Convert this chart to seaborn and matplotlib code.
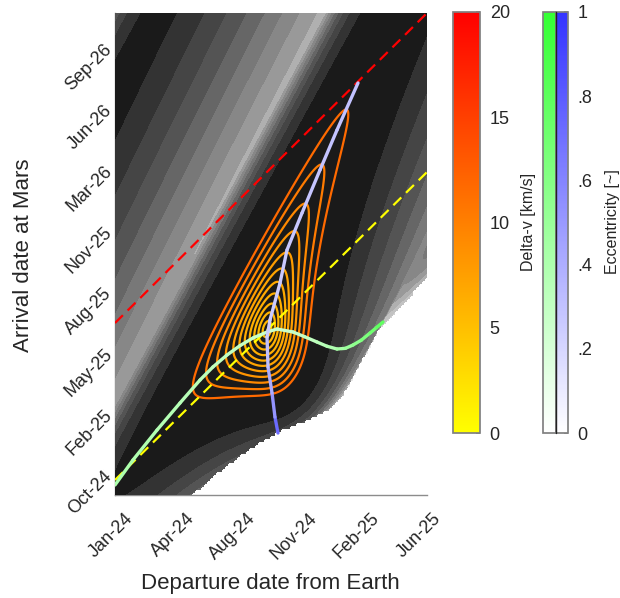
import numpy as np
import matplotlib
matplotlib.use("Agg")
import matplotlib.pyplot as plt
import seaborn as sns
import pandas as pd
from matplotlib.collections import LineCollection
from matplotlib.colors import ListedColormap, BoundaryNorm, Normalize, LinearSegmentedColormap
import matplotlib.colorbar as mcolorbar
import matplotlib.transforms as mtransforms

sns.set_theme(style="white")
plt.rcParams['font.family'] = ['Liberation Sans', 'DejaVu Sans']

# ---------------- axis ticks (days from the first tick) ----------------
departure_tick_days = [0, 100, 200, 300, 400, 500]
departure_tick_labels = ["Jan-24", "Apr-24", "Aug-24", "Nov-24", "Feb-25", "Jun-25"]
arrival_tick_days = [0, 100, 200, 300, 400, 500, 600, 700]
arrival_tick_labels = ["Oct-24", "Feb-25", "May-25", "Aug-25", "Nov-25", "Mar-26", "Jun-26", "Sep-26"]
departure_limits = [0.0, 506.5]
arrival_limits = [-34.4, 755.7]

# ---------------- dashed reference lines ----------------
red_line_x = [0.0, 506.5]
red_line_y = [247.5, 755.7]
yellow_line_x = [0.0, 506.5]
yellow_line_y = [-9.8, 495.0]

# ---------------- eccentricity-coloured curves ----------------
green_x = [0.0, 29.2, 68.2, 105.5, 138.0, 159.0, 181.8, 203.0, 224.0, 246.8, 263.0, 289.0, 308.0,
           327.9, 344.0, 360.4, 374.0, 386.4, 400.0, 414.0, 425.0, 435.1]
green_y = [-18.0, 23.0, 72.1, 116.4, 154.1, 175.5, 195.1, 210.5, 223.0, 232.8, 237.7, 232.8, 225.0,
           216.4, 209.5, 204.9, 206.0, 211.5, 219.5, 231.1, 240.5, 249.2]
green_e = [0.42, 0.40, 0.38, 0.36, 0.34, 0.33, 0.31, 0.30, 0.28, 0.26, 0.25, 0.27, 0.29,
           0.32, 0.36, 0.40, 0.46, 0.52, 0.60, 0.68, 0.74, 0.80]

blue_x = [264.6, 259.7, 254.9, 248.4, 246.8, 251.6, 267.9, 279.2, 303.6, 332.8, 360.4, 394.5]
blue_y = [67.2, 93.4, 132.8, 175.4, 224.6, 252.5, 313.1, 367.2, 427.9, 498.4, 563.9, 641.0]
blue_e = [0.85, 0.60, 0.45, 0.35, 0.27, 0.25, 0.26, 0.27, 0.28, 0.29, 0.30, 0.30]

# ---------------- delta-v contour levels (km/s) ----------------
dv_line_levels = [5.65, 5.80, 6.02, 6.32, 6.70, 7.15, 7.70, 8.40, 9.25, 10.35, 11.70]
background_levels = [0, 22, 30, 38, 46, 54, 62, 70, 78, 86, 94, 102, 110, 10000]
background_grays = [0.10, 0.20, 0.27, 0.33, 0.40, 0.47, 0.53, 0.60, 0.69, 0.76, 0.82, 0.87, 0.91]

# ---------------- transfer model parameters ----------------
hohmann_departure_day = 246.8   # departure of the delta-v minimum
arrival_axis_offset = 268.6     # time of flight = arrival - departure + offset

MU = 1.32712440018e11
AU = 1.495978707e8
R1 = 1.0 * AU
R2 = 1.523679 * AU
T_E = 365.256
T_M = 686.98
T_H = np.pi * np.sqrt(((R1 + R2) / 2) ** 3 / MU) / 86400.0


def stumpff(z):
    S = np.empty_like(z)
    C = np.empty_like(z)
    pos = z > 1e-8
    neg = z < -1e-8
    zer = ~(pos | neg)
    sp = np.sqrt(z[pos])
    S[pos] = (sp - np.sin(sp)) / sp ** 3
    C[pos] = (1 - np.cos(sp)) / z[pos]
    sn = np.sqrt(-z[neg])
    S[neg] = (np.sinh(sn) - sn) / sn ** 3
    C[neg] = (np.cosh(sn) - 1) / (-z[neg])
    S[zer] = 1 / 6
    C[zer] = 0.5
    return S, C


def porkchop(xg, yg):
    X, Y = np.meshgrid(xg, yg)
    tof = Y - X + arrival_axis_offset
    valid = tof > 1.0
    tsec = np.where(valid, tof, 100.0) * 86400.0
    thE = 2 * np.pi / T_E * (X - hohmann_departure_day)
    thM = np.pi + 2 * np.pi / T_M * (X + tof - (hohmann_departure_day + T_H))
    dth = np.mod(thM - thE, 2 * np.pi)
    A = np.sqrt(2 * R1 * R2) * np.cos(dth / 2)
    lo = np.full(X.shape, -300.0)
    hi = np.full(X.shape, 4 * np.pi ** 2 - 1e-7)
    for _ in range(90):
        z = 0.5 * (lo + hi)
        S, C = stumpff(z)
        yv = R1 + R2 + A * (z * S - 1) / np.sqrt(C)
        yp = np.maximum(yv, 1e-30)
        F = (yp / C) ** 1.5 * S + A * np.sqrt(yp) - np.sqrt(MU) * tsec
        F = np.where(yv > 0, F, -1.0)
        up = F < 0
        lo = np.where(up, z, lo)
        hi = np.where(up, hi, z)
    z = 0.5 * (lo + hi)
    S, C = stumpff(z)
    yv = np.maximum(R1 + R2 + A * (z * S - 1) / np.sqrt(C), 1e-30)
    f = 1 - yv / R1
    g = A * np.sqrt(yv / MU)
    gd = 1 - yv / R2
    r1x, r1y = R1 * np.cos(thE), R1 * np.sin(thE)
    r2x, r2y = R2 * np.cos(thM), R2 * np.sin(thM)
    v1x, v1y = (r2x - f * r1x) / g, (r2y - f * r1y) / g
    v2x, v2y = (gd * r2x - r1x) / g, (gd * r2y - r1y) / g
    vE = np.sqrt(MU / R1)
    vM = np.sqrt(MU / R2)
    dv1 = np.hypot(v1x + vE * np.sin(thE), v1y - vE * np.cos(thE))
    dv2 = np.hypot(v2x + vM * np.sin(thM), v2y - vM * np.cos(thM))
    dv = np.where(valid, dv1 + dv2, np.nan)
    elliptic = valid & (z > 0)
    return X, Y, dv, elliptic


# fine grid for the field, coarse grid for the blank (hyperbolic) region
xf = np.linspace(departure_limits[0], departure_limits[1], 312)
yf = np.linspace(arrival_limits[0], arrival_limits[1], 482)
Xf, Yf, dvf, _ = porkchop(xf, yf)
xc = np.linspace(departure_limits[0], departure_limits[1], 105)
yc = np.linspace(arrival_limits[0], arrival_limits[1], 160)
_, _, _, ell_c = porkchop(xc, yc)
ix = np.clip(np.round((xf - xc[0]) / (xc[1] - xc[0])).astype(int), 0, len(xc) - 1)
iy = np.clip(np.round((yf - yc[0]) / (yc[1] - yc[0])).astype(int), 0, len(yc) - 1)
mask_f = ell_c[np.ix_(iy, ix)]
dv_bg = np.where(mask_f, dvf, np.nan)

# ---------------- figure ----------------
W, H = 620, 598
fig = plt.figure(figsize=(W / 100, H / 100), dpi=100)


def fpos(l, t, w, h):
    return [l / W, 1 - (t + h) / H, w / W, h / H]


ax = fig.add_axes(fpos(115, 13, 312, 482))
gray_cmap = ListedColormap([(q, q, q) for q in background_grays])
ax.contourf(Xf, Yf, dv_bg, levels=background_levels, cmap=gray_cmap,
            norm=BoundaryNorm(background_levels, gray_cmap.N), zorder=1, antialiased=False)
dv_cmap = plt.get_cmap("autumn_r")
dv_norm = Normalize(0, 20)
ax.contour(Xf, Yf, dvf, levels=dv_line_levels, cmap=dv_cmap, norm=dv_norm,
           linewidths=1.6, zorder=3)

lines = pd.DataFrame({
    "departure": red_line_x + yellow_line_x,
    "arrival": red_line_y + yellow_line_y,
    "line": ["red"] * 2 + ["yellow"] * 2,
})
sns.lineplot(data=lines, x="departure", y="arrival", hue="line",
             palette={"red": "#ff0000", "yellow": "#ffff00"}, ax=ax,
             legend=False, linewidth=1.6, zorder=4, estimator=None, sort=False)
for ln in ax.lines:
    ln.set_dashes((5, 3))

green_cmap = LinearSegmentedColormap.from_list("g", ["#ffffff", "#33ff33"])
blue_cmap = LinearSegmentedColormap.from_list("b", ["#ffffff", "#3333ff"])


def ecc_curve(xs, ys, es, cmap):
    pts = np.column_stack([xs, ys])
    segs = np.stack([pts[:-1], pts[1:]], axis=1)
    ev = 0.5 * (np.array(es[:-1]) + np.array(es[1:]))
    lc = LineCollection(segs, colors=cmap(ev), linewidths=2.4, capstyle="round",
                        joinstyle="round", zorder=5)
    ax.add_collection(lc)


ecc_curve(green_x, green_y, green_e, green_cmap)
ecc_curve(blue_x, blue_y, blue_e, blue_cmap)

ax.set_xlim(departure_limits)
ax.set_ylim(arrival_limits)
ax.set_xticks(departure_tick_days)
ax.set_yticks(arrival_tick_days)
ax.set_xticklabels(departure_tick_labels, rotation=45, ha="right", va="center",
                   rotation_mode="anchor")
ax.set_yticklabels(arrival_tick_labels, rotation=45, ha="right", va="center",
                   rotation_mode="anchor")
ax.tick_params(axis="x", direction="in", length=5, width=1, color="0.55",
               labelsize=13, labelcolor="#262626", pad=15)
ax.tick_params(axis="y", direction="in", length=0, labelsize=13,
               labelcolor="#262626", pad=4)
off = mtransforms.ScaledTranslation(15 / 100, 0, fig.dpi_scale_trans)
for lab in ax.get_xticklabels():
    lab.set_transform(lab.get_transform() + off)
ax.set_axisbelow(True)
for side in ["top", "right"]:
    ax.spines[side].set_visible(False)
for side in ["left", "bottom"]:
    ax.spines[side].set_color("0.55")
    ax.spines[side].set_linewidth(1.0)
    ax.spines[side].set_zorder(0.5)
ax.set_xlabel("")
ax.set_ylabel("")
fig.text(270 / W, 1 - 584 / H, "Departure date from Earth", ha="center", va="center",
         fontsize=16, color="#262626")
fig.text(24 / W, 1 - 255 / H, "Arrival date at Mars", ha="center", va="center",
         fontsize=16, color="#262626", rotation=90)

# delta-v colorbar
cax1 = fig.add_axes(fpos(453, 12, 27, 421))
cb1 = mcolorbar.ColorbarBase(cax1, cmap=dv_cmap, norm=dv_norm, orientation="vertical")
cb1.set_ticks([0, 5, 10, 15, 20])
cb1.ax.tick_params(direction="in", length=3, color="0.5", labelsize=13,
                   labelcolor="#262626", pad=7)
cb1.outline.set_edgecolor("0.5")
fig.text(528 / W, 1 - 222 / H, "Delta-v [km/s]", rotation=90, ha="center", va="center",
         fontsize=11.5, color="#262626")

# eccentricity colorbars
ecc_norm = Normalize(0, 1)
cax2 = fig.add_axes(fpos(543, 12, 12.5, 421))
cb2 = mcolorbar.ColorbarBase(cax2, cmap=green_cmap, norm=ecc_norm, orientation="vertical")
cb2.set_ticks([])
cb2.outline.set_edgecolor("0.5")
cax3 = fig.add_axes(fpos(555.5, 12, 12.5, 421))
cb3 = mcolorbar.ColorbarBase(cax3, cmap=blue_cmap, norm=ecc_norm, orientation="vertical")
cb3.set_ticks([0, 0.2, 0.4, 0.6, 0.8, 1.0])
cb3.set_ticklabels(["0", ".2", ".4", ".6", ".8", "1"])
cb3.ax.tick_params(direction="in", length=3, color="0.5", labelsize=13,
                   labelcolor="#262626", pad=7)
cb3.outline.set_edgecolor("0.5")
fig.add_artist(plt.Line2D([555.5 / W, 555.5 / W], [1 - 433 / H, 1 - 12 / H],
                          color="#222222", linewidth=1.0))
fig.text(612 / W, 1 - 222 / H, "Eccentricity [~]", rotation=90, ha="center", va="center",
         fontsize=11.5, color="#262626")

fig.savefig("out.png", dpi=100)
